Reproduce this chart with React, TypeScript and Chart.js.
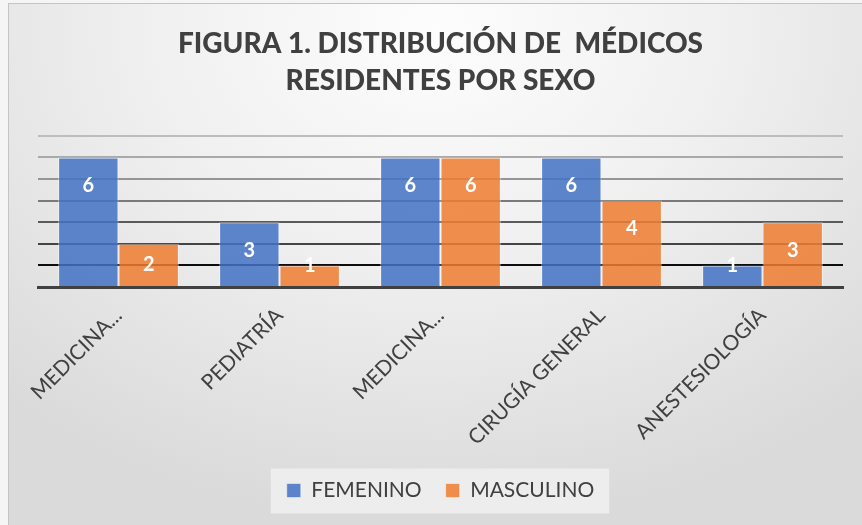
import React, { useEffect, useRef } from "react";
import { Chart, registerables } from "chart.js";

Chart.register(...registerables);

const categories = ["MEDICINA...", "PEDIATRÍA", "MEDICINA...", "CIRUGÍA GENERAL", "ANESTESIOLOGÍA"];
const femenino = [6, 3, 6, 6, 1];
const masculino = [2, 1, 6, 4, 3];
const seriesNames = ["FEMENINO", "MASCULINO"];
const titleLines = ["FIGURA 1. DISTRIBUCIÓN DE  MÉDICOS", "RESIDENTES POR SEXO"];
const yMin = 0;
const yMax = 7;
const yStep = 1;

const gridColors: Record<number, string> = {
  0: "rgba(0,0,0,0)",
  1: "#0d0d0d",
  2: "#444444",
  3: "#5a5a5a",
  4: "#7a7a7a",
  5: "#959595",
  6: "#a9a9a9",
  7: "#bdbdbd",
};

const FONT = "Lato, 'Open Sans', sans-serif";

const valueLabels = {
  id: "valueLabels",
  afterDatasetsDraw(chart: any) {
    const ctx = chart.ctx;
    ctx.save();
    ctx.fillStyle = "#ffffff";
    ctx.font = `bold 20px ${FONT}`;
    ctx.textAlign = "center";
    ctx.textBaseline = "middle";
    chart.data.datasets.forEach((ds: any, di: number) => {
      const meta = chart.getDatasetMeta(di);
      meta.data.forEach((bar: any, i: number) => {
        const h = bar.base - bar.y;
        const cy = h < 30 ? bar.y : bar.y + Math.min(28, h / 2);
        ctx.fillText(String(ds.data[i]), bar.x, cy);
      });
    });
    ctx.restore();
  },
};

const legendBg = {
  id: "legendBg",
  beforeDraw(chart: any) {
    const lg = chart.legend;
    if (!lg || !lg.legendHitBoxes || !lg.legendHitBoxes.length) return;
    const boxes = lg.legendHitBoxes;
    const left = Math.min(...boxes.map((b: any) => b.left));
    const right = Math.max(...boxes.map((b: any) => b.left + b.width));
    const top = Math.min(...boxes.map((b: any) => b.top));
    const bottom = Math.max(...boxes.map((b: any) => b.top + b.height));
    const cy = (top + bottom) / 2;
    const ctx = chart.ctx;
    ctx.save();
    ctx.fillStyle = "rgba(240,240,240,0.85)";
    ctx.fillRect(left - 16, cy - 22, right - left + 31, 45);
    ctx.restore();
  },
};

export default function App() {
  const ref = useRef<HTMLCanvasElement>(null);
  useEffect(() => {
    if (!ref.current) return;
    const chart = new Chart(ref.current, {
      type: "bar",
      data: {
        labels: categories,
        datasets: [
          {
            label: seriesNames[0],
            data: femenino,
            backgroundColor: "rgba(68,114,196,0.86)",
            borderColor: "rgba(255,255,255,0.45)",
            borderWidth: 1,
            categoryPercentage: 0.75,
            barPercentage: 1,
          },
          {
            label: seriesNames[1],
            data: masculino,
            backgroundColor: "rgba(237,125,49,0.86)",
            borderColor: "rgba(255,255,255,0.45)",
            borderWidth: 1,
            categoryPercentage: 0.75,
            barPercentage: 1,
          },
        ],
      },
      options: {
        animation: false,
        responsive: false,
        maintainAspectRatio: false,
        layout: { padding: { left: 29, right: 19, top: 0, bottom: 14 } },
        plugins: {
          title: {
            display: true,
            text: titleLines,
            color: "#404040",
            font: { family: FONT, size: 28, weight: 900, lineHeight: 1.3 },
            padding: { top: 22, bottom: 37 },
          },
          legend: {
            position: "bottom",
            labels: {
              color: "#404040",
              font: { family: FONT, size: 21 },
              boxWidth: 14,
              boxHeight: 14,
              padding: 24,
            },
          },
          tooltip: { enabled: false },
        },
        scales: {
          x: {
            grid: { display: false, drawTicks: false },
            border: { display: true, color: "#404040", width: 3 },
            ticks: {
              color: "#404040",
              font: { family: FONT, size: 21 },
              minRotation: 45,
              maxRotation: 45,
              autoSkip: false,
              padding: 16,
            },
            afterFit: (scale: any) => {
              scale.height = 169;
            },
          },
          y: {
            min: yMin,
            max: yMax,
            ticks: { display: false, stepSize: yStep },
            border: { display: false },
            grid: {
              drawTicks: false,
              lineWidth: 2,
              color: (c: any) => gridColors[c.tick ? c.tick.value : 0] || "#bbbbbb",
            },
          },
        },
      },
      plugins: [valueLabels, legendBg],
    });
    return () => chart.destroy();
  }, []);

  return (
    <div style={{ position: "fixed", left: 0, top: 0, width: 862, height: 525, background: "#f5f5f5", overflow: "hidden" }}>
      <div
        style={{
          position: "absolute",
          left: 8,
          top: 3,
          width: 854,
          height: 522,
          borderLeft: "1px solid #c4c4c4",
          borderTop: "1px solid #c4c4c4",
          boxSizing: "border-box",
          background: "radial-gradient(ellipse 75% 95% at 50% 5%, #fdfdfd 0%, #f0f0f0 45%, #dadada 100%)",
        }}
      >
        <canvas ref={ref} width={853} height={521} style={{ display: "block", width: 853, height: 521 }} />
      </div>
    </div>
  );
}
